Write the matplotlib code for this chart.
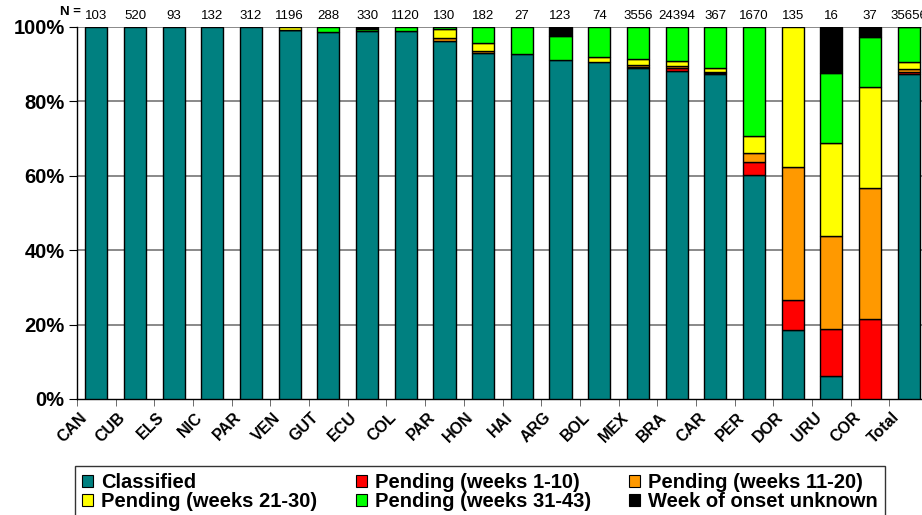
import numpy as np
import matplotlib
matplotlib.use("Agg")
import matplotlib.pyplot as plt
import matplotlib.transforms as mtransforms
from matplotlib.patches import Patch

categories = ['CAN', 'CUB', 'ELS', 'NIC', 'PAR', 'VEN', 'GUT', 'ECU', 'COL', 'PAR', 'HON',
              'HAI', 'ARG', 'BOL', 'MEX', 'BRA', 'CAR', 'PER', 'DOR', 'URU', 'COR', 'Total']
n_counts = ['103', '520', '93', '132', '312', '1196', '288', '330', '1120', '130', '182',
            '27', '123', '74', '3556', '24394', '367', '1670', '135', '16', '37', '35656']

classified = [100, 100, 100, 100, 100, 99.0, 98.6, 98.8, 98.9, 96.2, 92.9,
              92.6, 91.1, 90.5, 89.0, 88.0, 87.3, 60.2, 18.5, 6.25, 0, 87.2]
pending_1_10 = [0, 0, 0, 0, 0, 0, 0, 0, 0, 0, 0,
                0, 0, 0, 0.3, 0.8, 0.2, 3.5, 8.1, 12.5, 21.6, 0.7]
pending_11_20 = [0, 0, 0, 0, 0, 0.1, 0, 0, 0, 0.8, 0.55,
                 0, 0, 0, 0.3, 0.7, 0.3, 2.3, 35.6, 25.0, 35.1, 0.7]
pending_21_30 = [0, 0, 0, 0, 0, 0.9, 0, 0, 0, 2.3, 2.2,
                 0, 0, 1.35, 1.6, 1.2, 1.0, 4.6, 37.8, 25.0, 27.0, 2.0]
pending_31_43 = [0, 0, 0, 0, 0, 0, 1.4, 0.6, 1.1, 0.7, 4.4,
                 7.4, 6.5, 8.1, 8.8, 9.3, 11.2, 29.4, 0, 18.75, 13.5, 9.3]
onset_unknown = [0, 0, 0, 0, 0, 0, 0, 0.6, 0, 0, 0,
                 0, 2.4, 0, 0, 0, 0, 0, 0, 12.5, 2.7, 0.1]

series = [
    ('Classified', classified, '#008080'),
    ('Pending (weeks 1-10)', pending_1_10, '#FF0000'),
    ('Pending (weeks 11-20)', pending_11_20, '#FF9900'),
    ('Pending (weeks 21-30)', pending_21_30, '#FFFF00'),
    ('Pending (weeks 31-43)', pending_31_43, '#00FF00'),
    ('Week of onset unknown', onset_unknown, '#000000'),
]

plt.rcParams['font.family'] = ['Liberation Sans', 'DejaVu Sans']

fig = plt.figure(figsize=(9.22, 5.15), dpi=100)
ax = fig.add_axes([77 / 922, 116 / 515, 851 / 922, 372.3 / 515])

x = np.arange(len(categories))
bottom = np.zeros(len(categories))
width = 0.57
for name, vals, col in series:
    v = np.asarray(vals, dtype=float)
    m = v > 0
    ax.bar(x[m], v[m], width=width, bottom=bottom[m], color=col,
           edgecolor='black', linewidth=1.0, zorder=3)
    bottom += v

ax.set_xlim(-0.5, len(categories) - 0.5)
ax.set_ylim(0, 100)
ax.set_yticks([0, 20, 40, 60, 80, 100])
ax.set_yticklabels(['0%', '20%', '40%', '60%', '80%', '100%'],
                   fontsize=14.5, fontweight='bold')
for yv in [20, 40, 60, 80, 100]:
    ax.axhline(yv, color='#808080', linewidth=1.3, zorder=1)

ax.set_xticks(x)
ax.set_xticklabels([''] * len(categories))
lab_tr = ax.get_xaxis_transform() + mtransforms.ScaledTranslation(
    -12 / 100, -16 / 100, fig.dpi_scale_trans)
for i, c in enumerate(categories):
    ax.text(i, 0, c, transform=lab_tr, rotation=45, ha='right', va='center',
            rotation_mode='anchor', fontsize=11.5, fontweight='bold', clip_on=False)
ax.set_xticks(np.arange(len(categories) + 1) - 0.5, minor=True)
ax.tick_params(axis='x', which='major', length=0)
ax.tick_params(axis='x', which='minor', length=5, direction='out', color='#555555')
ax.tick_params(axis='y', length=6, direction='out', pad=3)

for s in ['top', 'right']:
    ax.spines[s].set_visible(False)
ax.spines['left'].set_linewidth(1.0)
ax.spines['bottom'].set_linewidth(1.0)

for i, t in enumerate(n_counts):
    ax.text(i, 103.0, t, ha='center', va='center', fontsize=9.5, clip_on=False)
fig.text(70 / 922, 1 - 12 / 515, 'N =', ha='center', va='center',
         fontsize=9.5, fontweight='bold')

handles = [Patch(facecolor=c, edgecolor='black', linewidth=0.8) for _, _, c in series]
labels = [nm for nm, _, _ in series]
order = [0, 3, 1, 4, 2, 5]
leg = fig.legend([handles[i] for i in order], [labels[i] for i in order],
                 ncol=3, loc='upper left', bbox_to_anchor=(75 / 922, 1 - 466 / 515),
                 frameon=True, fancybox=False, edgecolor='black',
                 prop={'weight': 'bold', 'size': 14.5},
                 handlelength=0.55, handleheight=0.55, handletextpad=0.4,
                 columnspacing=1.9, labelspacing=0.02, borderpad=0.35,
                 borderaxespad=0)
leg.get_frame().set_linewidth(1.0)

fig.savefig('out.png', dpi=100)
